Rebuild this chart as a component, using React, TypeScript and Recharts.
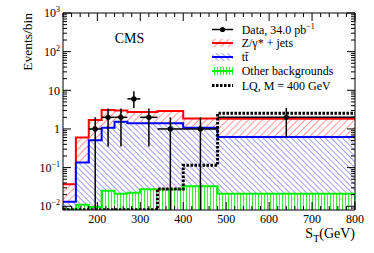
import React from 'react';
import { ComposedChart, Area, Line, Scatter, ErrorBar, XAxis, YAxis, Legend } from 'recharts';

const FONT = '"Liberation Serif", "DejaVu Serif", serif';

// S_T bins (GeV) and the content of each bin
const binEdges = [120, 150, 180, 210, 240, 270, 300, 340, 400, 480, 800];
const zJets = [0.037, 0.6, 1.7, 3.1, 3.0, 2.75, 2.75, 2.9, 1.87, 1.85];
const ttbar = [0.013, 0.135, 0.51, 1.08, 1.53, 1.4, 1.4, 1.4, 1.07, 0.62];
const otherBkg = [0.0082, 0.011, 0.0095, 0.025, 0.021, 0.0225, 0.0275, 0.0275, 0.033, 0.021];
const lq400 = [0.0081, 0.0081, 0.0081, 0.0081, 0.0081, 0.0081, 0.0081, 0.028, 0.115, 2.55];

// observed events per bin, with error band edges (null = empty bin)
const dataCounts = [null, null, 1, 2, 2, 6, 2, 1, 1, 2];
const dataLow = [null, null, 0.008, 0.35, 0.35, 3.5, 0.35, 0.008, 0.008, 0.62];
const dataHigh = [null, null, 2, 3.4, 3.4, 9.5, 3.4, 2, 2, 3.5];

const xTicks: number[] = [];
for (let v = 120; v <= 800; v += 20) xTicks.push(v);
const yTicks: number[] = [0.009];
for (let e = -2; e <= 2; e++) for (let k = 1; k <= 9; k++) yTicks.push(+(k * 10 ** e).toPrecision(3));
yTicks.push(1000);

const legendLabels = ['Data, 34.0 pb', 'Z/\u03b3* + jets', 't\u0074\u0304', 'Other backgrounds', 'LQ, M = 400 GeV'];

const histRows = binEdges.map((x, i) => {
  const j = Math.min(i, zJets.length - 1);
  return { x, z: zJets[j], tt: ttbar[j], other: otherBkg[j], lq: lq400[j] };
});

const points = dataCounts
  .map((n, i) =>
    n == null
      ? null
      : {
          x: (binEdges[i] + binEdges[i + 1]) / 2,
          y: n,
          ex: (binEdges[i + 1] - binEdges[i]) / 2,
          ey: [n - (dataLow[i] as number), (dataHigh[i] as number) - n],
        }
  )
  .filter(Boolean) as { x: number; y: number; ex: number; ey: number[] }[];

const isDecade = (v: number) => Math.abs(Math.log10(v) - Math.round(Math.log10(v))) < 1e-9;

function decadeLabel(v: number) {
  const e = Math.round(Math.log10(v));
  if (e === 0) return '1';
  if (e === 1) return '10';
  return (
    <>
      10
      <tspan dy={-5} fontSize={8}>
        {e < 0 ? '\u2212' + -e : e}
      </tspan>
    </>
  );
}

const BottomTick = ({ x, y, payload }: any) => {
  const major = payload.value % 100 === 0;
  return (
    <g>
      <line x1={x} x2={x} y1={y} y2={y - (major ? 8 : 4)} stroke="#000" />
      {major && (
        <text x={x} y={y + 12.5} textAnchor="middle" fontSize={12} fontFamily={FONT} fill="#000">
          {payload.value}
        </text>
      )}
    </g>
  );
};

const TopTick = ({ x, y, payload }: any) => {
  const major = payload.value % 100 === 0;
  return <line x1={x} x2={x} y1={y} y2={y + (major ? 8 : 4)} stroke="#000" />;
};

const LeftTick = ({ x, y, payload }: any) => {
  const major = isDecade(payload.value);
  return (
    <g>
      <line x1={x} x2={x + (major ? 8 : 4)} y1={y} y2={y} stroke="#000" />
      {major && (
        <text x={x - 3} y={y} dy="0.35em" textAnchor="end" fontSize={12} fontFamily={FONT} fill="#000">
          {decadeLabel(payload.value)}
        </text>
      )}
    </g>
  );
};

const RightTick = ({ x, y, payload }: any) => {
  const major = isDecade(payload.value);
  return <line x1={x} x2={x - (major ? 8 : 4)} y1={y} y2={y} stroke="#000" />;
};

const LegendBox = () => {
  const rowY = [9.5, 23, 37, 51, 65.5];
  const box = (i: number, fill: string, stroke: string) => (
    <g key={i}>
      <rect x={7} y={rowY[i] - 4} width={21} height={8} fill={fill} />
      <line x1={7} x2={28} y1={rowY[i]} y2={rowY[i]} stroke={stroke} strokeWidth={2} />
    </g>
  );
  return (
    <svg width={160} height={80} style={{ overflow: 'visible' }}>
      <line x1={7} x2={28} y1={rowY[0]} y2={rowY[0]} stroke="#000" strokeWidth={1.5} />
      <circle cx={17.5} cy={rowY[0]} r={2.6} fill="#000" />
      {box(1, 'url(#hatchRed)', '#ff0000')}
      {box(2, 'url(#hatchBlue)', '#0000ff')}
      {box(3, 'url(#hatchGreen)', '#00ee00')}
      <line x1={7} x2={28} y1={rowY[4]} y2={rowY[4]} stroke="#000" strokeWidth={3} strokeDasharray="2.5 1.5" />
      {legendLabels.map((label, i) => (
        <text key={label} x={36.7} y={rowY[i] + 4} fontSize={12} fontFamily={FONT} fill="#000">
          {label}
          {i === 0 && (
            <tspan dy={-5} fontSize={8}>
              {'\u22121'}
            </tspan>
          )}
        </text>
      ))}
    </svg>
  );
};

export default function App() {
  return (
    <div style={{ position: 'absolute', left: 0, top: 0, width: 374, height: 253, background: '#fff' }}>
      <ComposedChart width={374} height={253} data={histRows} margin={{ top: 12, right: 18, bottom: 42, left: 62 }}>
        <defs>
          <pattern id="hatchRed" width={5} height={5} patternUnits="userSpaceOnUse" patternTransform="rotate(45)">
            <rect width={5} height={5} fill="#fff" />
            <line x1={0} y1={0} x2={0} y2={5} stroke="#ff3333" strokeWidth={1} />
          </pattern>
          <pattern id="hatchBlue" width={4} height={4} patternUnits="userSpaceOnUse" patternTransform="rotate(-45)">
            <rect width={4} height={4} fill="#fff" />
            <line x1={0} y1={0} x2={0} y2={4} stroke="#4444dd" strokeWidth={1} />
          </pattern>
          <pattern id="hatchGreen" width={3} height={3} patternUnits="userSpaceOnUse">
            <rect width={3} height={3} fill="#fff" />
            <line x1={0.5} y1={0} x2={0.5} y2={3} stroke="#22ee22" strokeWidth={0.9} />
          </pattern>
        </defs>
        <XAxis
          dataKey="x"
          type="number"
          domain={[120, 800]}
          allowDataOverflow
          ticks={xTicks}
          interval={0}
          height={1}
          tickSize={0}
          tickMargin={0}
          tickLine={false}
          axisLine={{ stroke: '#000' }}
          tick={<BottomTick />}
        />
        <XAxis
          xAxisId="top"
          orientation="top"
          dataKey="x"
          type="number"
          domain={[120, 800]}
          allowDataOverflow
          ticks={xTicks}
          interval={0}
          height={1}
          tickSize={0}
          tickMargin={0}
          tickLine={false}
          axisLine={{ stroke: '#000' }}
          tick={<TopTick />}
        />
        <YAxis
          type="number"
          scale="log"
          domain={[0.008, 1000]}
          allowDataOverflow
          ticks={yTicks}
          interval={0}
          width={1}
          tickSize={0}
          tickMargin={0}
          tickLine={false}
          axisLine={{ stroke: '#000' }}
          tick={<LeftTick />}
        />
        <YAxis
          yAxisId="right"
          orientation="right"
          type="number"
          scale="log"
          domain={[0.008, 1000]}
          allowDataOverflow
          ticks={yTicks}
          interval={0}
          width={1}
          tickSize={0}
          tickMargin={0}
          tickLine={false}
          axisLine={{ stroke: '#000' }}
          tick={<RightTick />}
        />
        <Area
          type="stepAfter"
          dataKey="z"
          baseValue="dataMin"
          stroke="#ff0000"
          strokeWidth={2}
          fill="url(#hatchRed)"
          fillOpacity={1}
          isAnimationActive={false}
        />
        <Area
          type="stepAfter"
          dataKey="tt"
          baseValue="dataMin"
          stroke="#0000ff"
          strokeWidth={2}
          fill="url(#hatchBlue)"
          fillOpacity={1}
          isAnimationActive={false}
        />
        <Area
          type="stepAfter"
          dataKey="other"
          baseValue="dataMin"
          stroke="#00ee00"
          strokeWidth={2}
          fill="url(#hatchGreen)"
          fillOpacity={1}
          isAnimationActive={false}
        />
        <Line
          type="stepAfter"
          dataKey="lq"
          stroke="#000"
          strokeWidth={3}
          strokeDasharray="2.5 1.5"
          dot={false}
          isAnimationActive={false}
        />
        <Scatter
          data={points}
          dataKey="y"
          fill="#000"
          isAnimationActive={false}
          shape={(p: any) => <circle cx={p.cx} cy={p.cy} r={2.6} fill="#000" />}
        >
          <ErrorBar dataKey="ey" direction="y" width={0} stroke="#000" strokeWidth={1.5} isAnimationActive={false} />
          <ErrorBar dataKey="ex" direction="x" width={0} stroke="#000" strokeWidth={1.5} isAnimationActive={false} />
        </Scatter>
        <Legend
          layout="vertical"
          align="center"
          verticalAlign="middle"
          wrapperStyle={{ position: 'absolute', left: 205, top: 20, width: 160, height: 80 }}
          content={() => <LegendBox />}
        />
      </ComposedChart>
      <svg width={374} height={253} style={{ position: 'absolute', left: 0, top: 0, pointerEvents: 'none' }}>
        <text x={129.5} y={43} textAnchor="middle" fontSize={14} fontFamily={FONT} fill="#000">
          CMS
        </text>
        <text transform="translate(32,13) rotate(-90)" textAnchor="end" fontSize={13.5} fontFamily={FONT} fill="#000">
          Events/bin
        </text>
        <text x={355} y={238} textAnchor="end" fontSize={14} fontFamily={FONT} fill="#000">
          S
          <tspan dy={4} fontSize={10}>
            T
          </tspan>
          <tspan dy={-4}>(GeV)</tspan>
        </text>
      </svg>
    </div>
  );
}
